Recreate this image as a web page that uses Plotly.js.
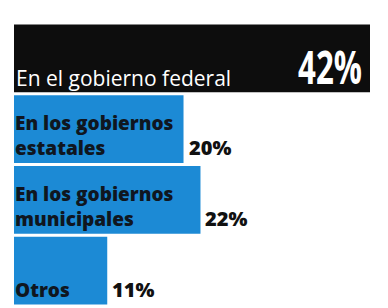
<!DOCTYPE html>
<html>
<head>
<meta charset="utf-8">
<script src="https://cdn.plot.ly/plotly-3.0.1.min.js"></script>
<style>html,body{margin:0;padding:0;background:#fff;}#chart{width:388px;height:308px;}</style>
</head>
<body>
<div id="chart"></div>
<script>
const categories = ["En el gobierno federal", "En los gobiernos<br>estatales", "En los gobiernos<br>municipales", "Otros"];
const values = [42, 20, 22, 11];
const barColors = ["#0d0d0d", "#1c8ad5", "#1c8ad5", "#1c8ad5"];
const labelColors = ["#ffffff", "#0f1620", "#0f1620", "#0f1620"];

const trace = {
  type: "bar",
  orientation: "h",
  x: values,
  y: categories.map((c, i) => i),
  marker: {color: barColors, line: {width: 0}},
  hoverinfo: "none",
  showlegend: false
};

const annotations = [];
categories.forEach((c, i) => {
  annotations.push({
    x: 0, y: i, xref: "x", yref: "y",
    xanchor: "left", yanchor: "bottom",
    xshift: i === 0 ? 1 : 0, yshift: i === 0 ? -35 : -33,
    text: c, showarrow: false, align: "left", borderpad: 0,
    font: {family: "Open Sans, Noto Sans, sans-serif", size: i === 0 ? 21 : 19,
           weight: i === 0 ? 400 : 800, color: labelColors[i]}
  });
  const inside = i === 0;
  annotations.push({
    x: values[i], y: i, xref: "x", yref: "y",
    xanchor: inside ? "right" : "left", yanchor: "bottom",
    xshift: inside ? -7 : 4, yshift: inside ? -40 : -33,
    text: values[i] + "%", showarrow: false, borderpad: 0,
    font: inside
      ? {family: "Open Sans, Noto Sans, sans-serif", size: 46, weight: 700, color: "#ffffff"}
      : {family: "Open Sans, Noto Sans, sans-serif", size: 20, weight: 800, color: "#111111"}
  });
});

const layout = {
  width: 388, height: 308,
  margin: {l: 14, r: 18, t: 23, b: 2, pad: 0},
  paper_bgcolor: "#ffffff", plot_bgcolor: "#ffffff",
  bargap: 0.04,
  xaxis: {range: [0, 42], visible: false, fixedrange: true},
  yaxis: {range: [3.5, -0.5], visible: false, fixedrange: true},
  annotations: annotations
};

Plotly.newPlot("chart", [trace], layout, {displayModeBar: false, staticPlot: true}).then(gd => {
  // condense the big headline figure horizontally (the original uses a compressed typeface)
  const big = values[0] + "%";
  gd.querySelectorAll("text.annotation-text").forEach(el => {
    if (el.textContent === big) {
      const bb = el.getBBox();
      const right = bb.x + bb.width;
      const prev = el.getAttribute("transform") || "";
      el.setAttribute("transform", "translate(" + right + ",0) scale(0.68,1) translate(" + (-right) + ",0) " + prev);
    }
  });
});
</script>
</body>
</html>
